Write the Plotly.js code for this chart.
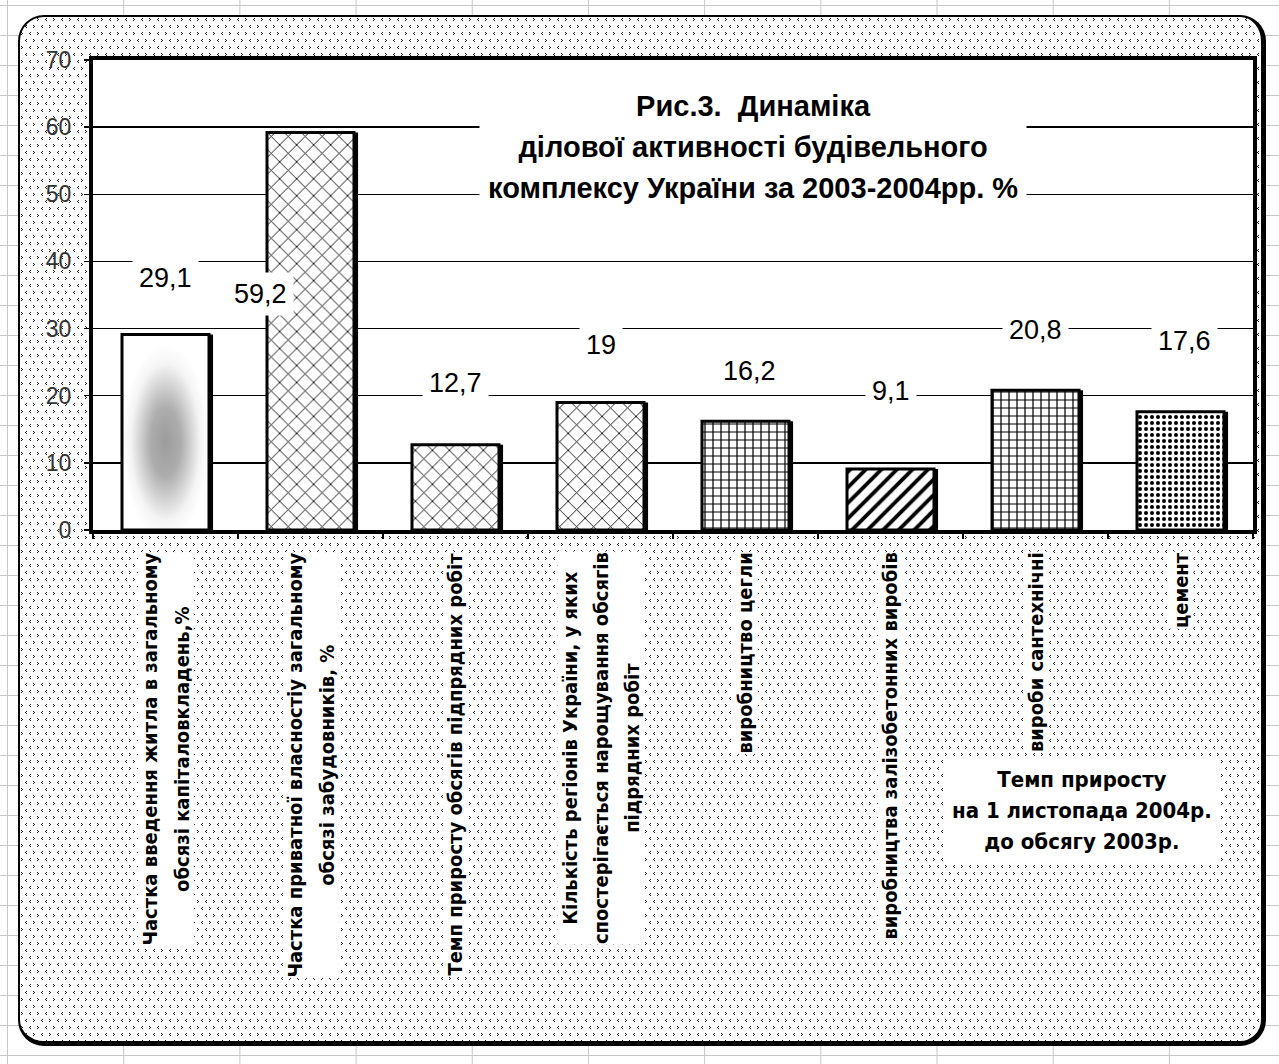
<!DOCTYPE html>
<html>
<head>
<meta charset="utf-8">
<script src="https://cdn.plot.ly/plotly-3.0.1.min.js"></script>
<style>
  html, body { margin:0; padding:0; }
  body {
    width:1279px; height:1064px; position:relative; overflow:hidden;
    background-color:#fff;
    background-image: linear-gradient(to right, #c6c6c6 1px, transparent 1px),
                      linear-gradient(to bottom, #c6c6c6 1px, transparent 1px);
    background-size: 116.2px 30px;
    background-position: 7px 5px;
  }
  #frame {
    position:absolute; left:18px; top:15px; width:1248px; height:1031px;
    box-sizing:border-box; border-radius:26px;
    border-top:2px solid #000; border-left:2px solid #000;
    border-right:5px solid #000; border-bottom:5px solid #000;
    background-color:#fff;
  }
  #chart { position:absolute; left:0; top:0; width:1279px; height:1064px; }
</style>
</head>
<body>
<div id="frame"></div>
<div id="chart"></div>
<script>
// ---- data ----
const categories = [
  ["Частка введення житла в загальному", "обсязі капіталовкладень,%"],
  ["Частка приватної власностіу загальному", "обсязі забудовників, %"],
  ["Темп приросту обсягів підпрядних робіт"],
  ["Кількість регіонів України, у яких", "спостерігається нарощування обсягів", "підрядних робіт"],
  ["виробництво цегли"],
  ["виробництва залізобетонних виробів"],
  ["вироби сантехнічні"],
  ["цемент"]
];
const values = [29.1, 59.2, 12.7, 19, 16.2, 9.1, 20.8, 17.6];
const valueLabels = ["29,1", "59,2", "12,7", "19", "16,2", "9,1", "20,8", "17,6"];
const titleLines = ["Рис.3.\u00a0 Динаміка", "ділової активності будівельного", "комплексу України за 2003-2004рр. %"];
const noteLines = ["Темп приросту", "на 1 листопада 2004р.", "до обсягу 2003р."];
const yTicks = [0, 10, 20, 30, 40, 50, 60, 70];

// ---- styling / placement (not data) ----
const barPatterns = ["", "x", "x", "x", "+", "/", "+", "."];
const patternSizes = [8, 12, 12, 12, 8, 11, 8, 6];
const patternSolidity = [0.2, 0.14, 0.14, 0.14, 0.28, 0.35, 0.28, 0.36];
const labelDX = [0, -50, 0, 0, 4, 0, 0, 4];
const labelDY = [57, -161, 62, 57, 50, 78, 60, 71];

// background pattern of the chart area (decoration)
(function(){
  const px = [];
  function gt(x,y){ px.push([x,y],[x+1,y+1],[x,y+2]); }
  function lt(x,y){ px.push([x+1,y],[x,y+1],[x+1,y+2]); }
  gt(1,1); lt(9,1); lt(5,8); gt(13,8);
  const rects = px.map(p => `<rect x='${p[0]}' y='${p[1]}' width='1' height='1'/>`).join('');
  const svg = `<svg xmlns='http://www.w3.org/2000/svg' width='16' height='14' shape-rendering='crispEdges'><g fill='#1a1a1a'>${rects}</g></svg>`;
  document.getElementById('frame').style.backgroundImage = `url("data:image/svg+xml,${encodeURIComponent(svg)}")`;
})();

const FONT = "Liberation Sans, Arial, sans-serif";
const NARROW = "Liberation Sans Narrow, Arial Narrow, DejaVu Sans Condensed, sans-serif";

// lines with a glyph size smaller than the line pitch
function lines(arr, px) {
  return arr.map(s => `<span style="font-size:${px}px">${s}</span>`).join('<br>');
}

const xIdx = categories.map((c, i) => i);

const shadow = {
  type: 'bar', x: xIdx, y: values, width: 0.6, offset: -0.272,
  marker: { color: '#000', line: { width: 0 } },
  hoverinfo: 'skip'
};
const bars = {
  type: 'bar', x: xIdx, y: values, width: 0.6, offset: -0.3,
  marker: {
    color: '#fff',
    line: { color: '#000', width: 3 },
    pattern: { shape: barPatterns, size: patternSizes, solidity: patternSolidity, fgcolor: '#000', bgcolor: '#fff' }
  },
  hoverinfo: 'skip'
};

const annotations = [];
values.forEach((v, i) => {
  annotations.push({
    x: i, y: v, xref: 'x', yref: 'y', text: valueLabels[i], showarrow: false,
    xanchor: 'center', yanchor: 'middle', xshift: labelDX[i], yshift: labelDY[i],
    font: { family: FONT, size: 27, color: '#000' }, bgcolor: '#fff', borderpad: 6
  });
});
categories.forEach((c, i) => {
  annotations.push({
    x: i, y: -0.046, xref: 'x', yref: 'paper', text: lines(c, 20), showarrow: false,
    textangle: -90, xanchor: 'center', yanchor: 'top', align: 'center',
    font: { family: NARROW, size: 24, color: '#000', weight: 'bold' }, bgcolor: '#fff', borderpad: 0
  });
});
annotations.push({
  x: 0.569, y: 0.815, xref: 'paper', yref: 'paper', text: lines(titleLines, 29), showarrow: false,
  xanchor: 'center', yanchor: 'middle', align: 'center',
  font: { family: FONT, size: 31.5, color: '#000', weight: 'bold' }, bgcolor: '#fff', borderpad: 8
});
annotations.push({
  x: 0.853, y: -0.596, xref: 'paper', yref: 'paper', text: lines(noteLines, 22), showarrow: false,
  xanchor: 'center', yanchor: 'middle', align: 'center',
  font: { family: NARROW, size: 24, color: '#000', weight: 'bold' }, bgcolor: '#fff', borderpad: 8
});

const layout = {
  width: 1279, height: 1064,
  margin: { l: 93, r: 26, t: 60, b: 534, pad: 0 },
  paper_bgcolor: 'rgba(0,0,0,0)', plot_bgcolor: '#fff',
  barmode: 'overlay', showlegend: false, hovermode: false,
  xaxis: {
    type: 'linear', range: [-0.5, 7.5], showgrid: false, zeroline: false,
    showline: true, linewidth: 4, linecolor: '#000', mirror: true,
    tickvals: [-0.5, 0.5, 1.5, 2.5, 3.5, 4.5, 5.5, 6.5, 7.5],
    ticks: 'outside', ticklen: 5, tickwidth: 1.5, tickcolor: '#000', showticklabels: false, fixedrange: true
  },
  yaxis: {
    range: [0, 70], tickvals: yTicks, showgrid: true, gridcolor: '#000', gridwidth: 1.5, zeroline: false,
    showline: true, linewidth: 4, linecolor: '#000', mirror: true,
    ticks: 'outside', ticklen: 5, tickwidth: 1.5, tickcolor: '#000',
    tickfont: { family: FONT, size: 23, color: '#333' }, ticklabelstandoff: 8, fixedrange: true
  },
  annotations: annotations
};

Plotly.newPlot('chart', [shadow, bars], layout, { displayModeBar: false, staticPlot: true }).then(gd => {
  const ns = 'http://www.w3.org/2000/svg';
  const svg = gd.querySelector('.main-svg');
  let defs = svg.querySelector('defs');
  if (!defs) { defs = document.createElementNS(ns, 'defs'); svg.insertBefore(defs, svg.firstChild); }
  const g = document.createElementNS(ns, 'radialGradient');
  g.setAttribute('id', 'bar1grad');
  g.setAttribute('cx', '0.5'); g.setAttribute('cy', '0.55'); g.setAttribute('r', '0.5');
  [[0, '#9c9c9c'], [0.35, '#adadad'], [0.8, '#f4f4f4'], [1, '#ffffff']].forEach(s => {
    const st = document.createElementNS(ns, 'stop');
    st.setAttribute('offset', s[0]); st.setAttribute('stop-color', s[1]);
    g.appendChild(st);
  });
  defs.appendChild(g);
  const traces = gd.querySelectorAll('.barlayer .trace');
  if (traces.length > 1) {
    const p = traces[1].querySelector('.point path');
    if (p) p.style.fill = 'url(#bar1grad)';
  }
});
</script>
</body>
</html>
